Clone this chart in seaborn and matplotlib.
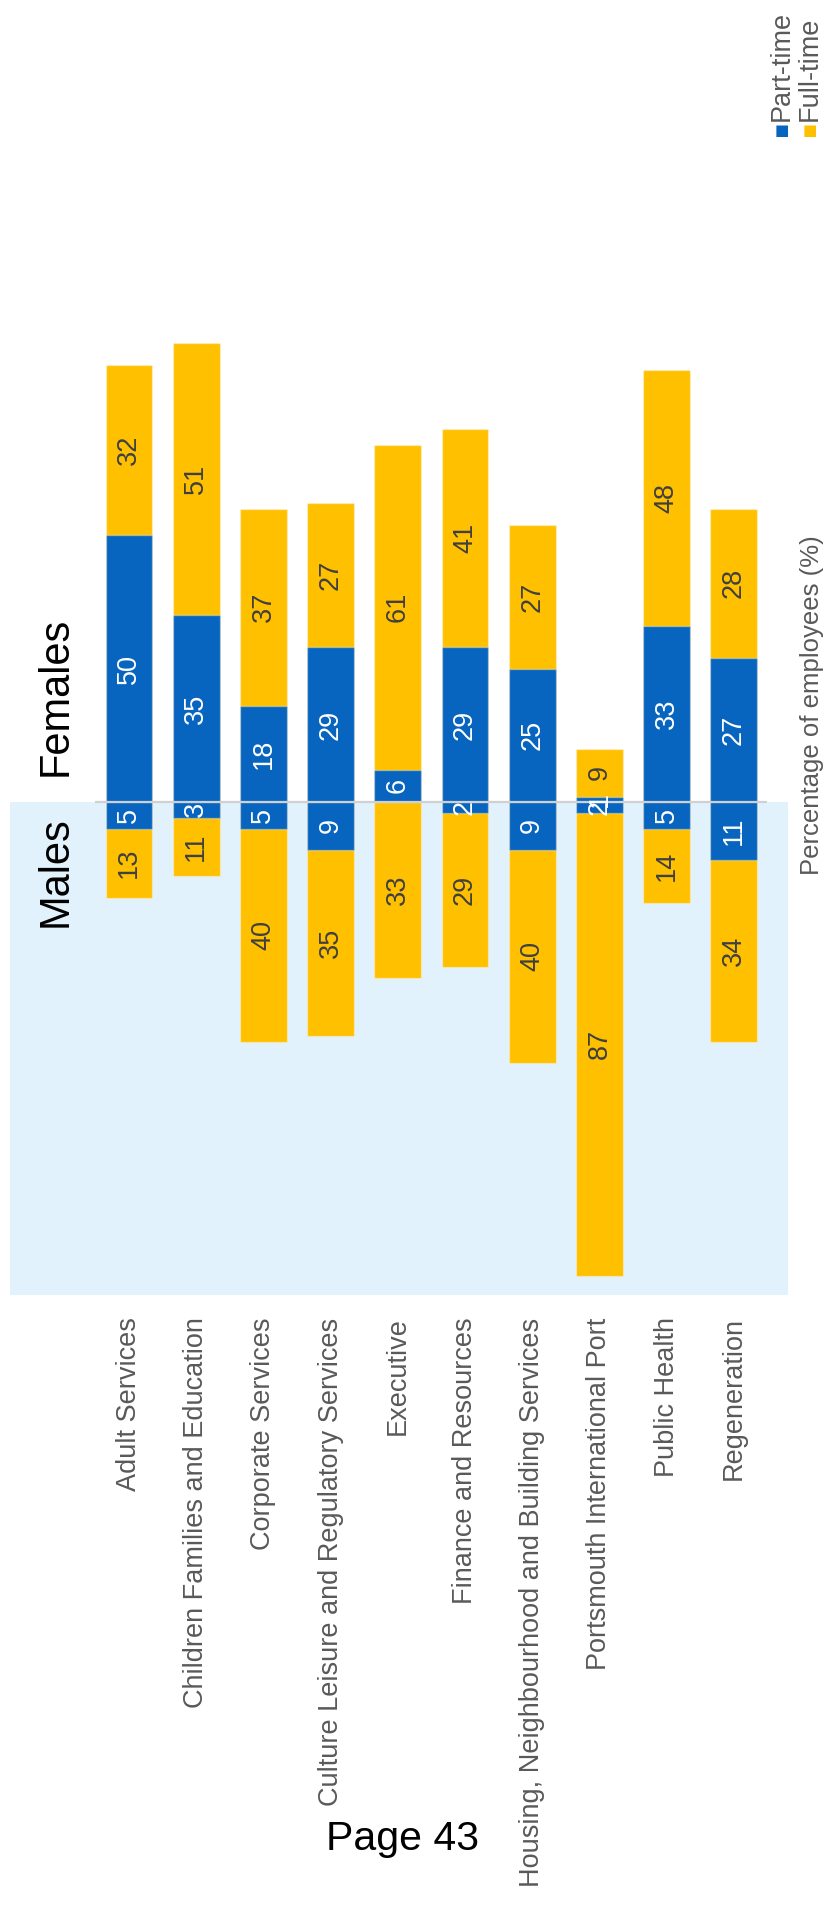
import matplotlib
matplotlib.use("Agg")
import matplotlib.pyplot as plt
import seaborn as sns
import pandas as pd

# Staff by directorate: percentage of employees, split by sex and working pattern
categories = [
    "Adult Services",
    "Children Families and Education",
    "Corporate Services",
    "Culture Leisure and Regulatory Services",
    "Executive",
    "Finance and Resources",
    "Housing, Neighbourhood and Building Services",
    "Portsmouth International Port",
    "Public Health",
    "Regeneration",
]
male_part = [5, 3, 5, 9, 0, 2, 9, 2, 5, 11]
male_full = [13, 11, 40, 35, 33, 29, 40, 87, 14, 34]
female_part = [50, 35, 18, 29, 6, 29, 25, 1, 33, 27]
female_full = [32, 51, 37, 27, 61, 41, 27, 9, 48, 28]
series_names = ["Part-time", "Full-time"]

BLUE = "#0765C0"
YELLOW = "#FFC000"
MALE_BG = "#E1F2FD"
GREY_TEXT = "#595959"
DARK_TEXT = "#404040"

sns.set_theme(style="white")
plt.rcParams["font.family"] = ["Liberation Sans", "DejaVu Sans"]

df = pd.DataFrame({
    "dept": categories,
    "male_part": male_part,
    "male_full": male_full,
    "female_part": female_part,
    "female_full": female_full,
})
df["female_total"] = df["female_part"] + df["female_full"]
df["male_total"] = -(df["male_part"] + df["male_full"])
df["male_part_neg"] = -df["male_part"]

W, H = 826, 1916
fig = plt.figure(figsize=(W / 100, H / 100), dpi=100)
ax = fig.add_axes([10 / W, 1 - 1295 / H, 778 / W, (1295 - 268.7) / H])

bar_kw = dict(ax=ax, order=categories, width=0.695, saturation=1, errorbar=None,
              edgecolor=(1, 1, 1, 0.35), linewidth=1.0)

# stacked bars: totals in yellow (full-time on top), part-time in blue from zero
sns.barplot(data=df, x="dept", y="female_total", color=YELLOW, **bar_kw)
sns.barplot(data=df, x="dept", y="female_part", color=BLUE, **bar_kw)
sns.barplot(data=df, x="dept", y="male_total", color=YELLOW, **bar_kw)
sns.barplot(data=df, x="dept", y="male_part_neg", color=BLUE, **bar_kw)

n = len(categories)
ax.set_xlim(-1.771, -1.771 + 778 / 67.2)
ax.set_ylim(-92.5, 100)
ax.axhspan(-92.5, 0, color=MALE_BG, zorder=0, lw=0)
ax.hlines(0, -0.5, n - 0.5, color="#D0D0D0", lw=1.6, zorder=6)
ax.axis("off")

# segment value labels
for i in range(n):
    segs = [
        (female_part[i] / 2, female_part[i], "white"),
        (female_part[i] + female_full[i] / 2, female_full[i], DARK_TEXT),
        (-male_part[i] / 2, male_part[i], "white"),
        (-male_part[i] - male_full[i] / 2, male_full[i], DARK_TEXT),
    ]
    for y, v, c in segs:
        if v > 0:
            ax.text(i, y, f"{v}", rotation=90, ha="center", va="center",
                    color=c, fontsize=19.5, zorder=7)
    ax.text(i, -96.7, categories[i], rotation=90, ha="center", va="top",
            color=GREY_TEXT, fontsize=19.5, clip_on=False)

ax.text(-1.09, 4.8, "Females", rotation=90, ha="center", va="bottom",
        color="black", fontsize=30)
ax.text(-1.09, -2.7, "Males", rotation=90, ha="center", va="top",
        color="black", fontsize=30)

fig.text(812 / W, 1 - 705 / H, "Percentage of employees (%)", rotation=90,
         ha="center", va="center", color=GREY_TEXT, fontsize=18.5)

# legend entries (square marker below rotated label)
for x_px, name, col in [(782, series_names[0], BLUE), (810, series_names[1], YELLOW)]:
    fig.text(x_px / W, 1 - 138 / H, "\u25A0", ha="center", va="bottom",
             color=col, fontsize=11, family=["DejaVu Sans"])
    fig.text(x_px / W, 1 - 121 / H, name, rotation=90, ha="center", va="bottom",
             color=GREY_TEXT, fontsize=19.5)

fig.text(403 / W, 1 - 1850 / H, "Page 43", ha="center", va="baseline",
         color="black", fontsize=29.5)

fig.savefig("out.png", dpi=100)
